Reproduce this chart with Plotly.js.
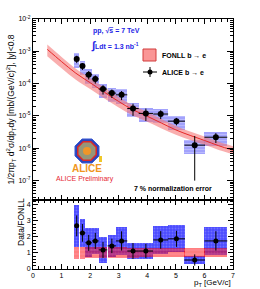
<!DOCTYPE html>
<html><head><meta charset="utf-8">
<script src="https://cdn.plot.ly/plotly-3.0.1.min.js"></script>
<style>html,body{margin:0;padding:0;background:#fff}#chart{width:260px;height:289px}</style>
</head><body><div id="chart"></div>
<script>
// ---- data ----
const pt = [1.53, 1.73, 1.95, 2.18, 2.45, 2.76, 3.1, 3.5, 3.95, 4.47, 5.02, 5.66, 6.4];
const ptHalf = [0.08, 0.1, 0.12, 0.12, 0.15, 0.15, 0.2, 0.2, 0.25, 0.26, 0.3, 0.36, 0.4];
const dataY = [5.8e-4, 3.5e-4, 1.9e-4, 1.4e-4, 6.8e-5, 5.1e-5, 4.5e-5, 1.7e-5, 1.2e-5, 1.15e-5, 6.9e-6, 1.25e-6, 2.2e-6];
const dataStat = [1.5e-4, 0.85e-4, 0.55e-4, 0.4e-4, 2.2e-5, 1.5e-5, 1.4e-5, 7e-6, 5e-6, 3.5e-6, 1.8e-6, 1.15e-6, 0.75e-6];
const dataSys = [2.8e-4, 1.6e-4, 0.95e-4, 0.65e-4, 3.3e-5, 2.4e-5, 2.1e-5, 8e-6, 5.6e-6, 5.4e-6, 3.2e-6, 0.6e-6, 1.05e-6];

const fonllPt = [0.5, 1.0, 1.5, 2.0, 2.5, 3.0, 3.5, 4.0, 4.5, 5.0, 5.5, 6.0, 6.5, 7.0];
const fonllC  = [1.15e-3, 4.8e-4, 2.1e-4, 1.07e-4, 5.4e-5, 2.8e-5, 1.55e-5, 9.8e-6, 6.0e-6, 3.7e-6, 2.5e-6, 1.75e-6, 1.2e-6, 8.7e-7];
const fonllHi = [1.62e-3, 6.7e-4, 2.9e-4, 1.48e-4, 7.4e-5, 3.8e-5, 2.1e-5, 1.32e-5, 8.0e-6, 4.9e-6, 3.3e-6, 2.3e-6, 1.58e-6, 1.15e-6];
const fonllLo = [7.1e-4, 3.0e-4, 1.32e-4, 6.8e-5, 3.5e-5, 1.83e-5, 1.03e-5, 6.6e-6, 4.1e-6, 2.6e-6, 1.8e-6, 1.28e-6, 8.9e-7, 6.6e-7];

const ratio = [2.69, 2.25, 1.63, 1.75, 1.19, 1.44, 1.75, 1.12, 1.12, 1.81, 1.88, 0.56, 1.75];
const ratioStat = [0.65, 0.55, 0.5, 0.5, 0.5, 0.45, 0.6, 0.5, 0.45, 0.55, 0.5, 0.35, 0.6];
const ratioSys = [1.3, 0.85, 0.9, 0.8, 0.8, 0.7, 0.85, 0.5, 0.5, 0.85, 0.85, 0.26, 0.85];
const ratioFonllLo = [0.64, 0.65, 0.66, 0.67, 0.68, 0.69, 0.7, 0.71, 0.72, 0.73, 0.74, 0.75, 0.76];
const ratioFonllHi = [1.38, 1.37, 1.37, 1.36, 1.36, 1.35, 1.35, 1.34, 1.34, 1.33, 1.33, 1.33, 1.32];

const yTickVals = [1e-7, 1e-6, 1e-5, 1e-4, 1e-3, 1e-2];
const yTickText = ['10<sup>-7</sup>', '10<sup>-6</sup>', '10<sup>-5</sup>', '10<sup>-4</sup>', '10<sup>-3</sup>', '10<sup>-2</sup>'];
const yMinorVals = [2e-8,3e-8,4e-8,5e-8,6e-8,7e-8,8e-8,9e-8,2e-7,3e-7,4e-7,5e-7,6e-7,7e-7,8e-7,9e-7,2e-6,3e-6,4e-6,5e-6,6e-6,7e-6,8e-6,9e-6,2e-5,3e-5,4e-5,5e-5,6e-5,7e-5,8e-5,9e-5,2e-4,3e-4,4e-4,5e-4,6e-4,7e-4,8e-4,9e-4,2e-3,3e-3,4e-3,5e-3,6e-3,7e-3,8e-3,9e-3];

// ---- traces ----
const F = 'Liberation Sans, Arial, sans-serif';
const widths = ptHalf.map(h => 2 * h);
const traces = [
  {x: fonllPt, y: fonllLo, type: 'scatter', mode: 'lines', line: {width: 0, color: 'rgba(0,0,0,0)', shape: 'spline'}, hoverinfo: 'skip', showlegend: false, xaxis: 'x', yaxis: 'y'},
  {x: fonllPt, y: fonllHi, type: 'scatter', mode: 'lines', fill: 'tonexty', fillcolor: 'rgba(245,120,120,0.6)', line: {width: 0, color: 'rgba(0,0,0,0)', shape: 'spline'}, name: 'FONLL b → e', showlegend: false, xaxis: 'x', yaxis: 'y'},
  {x: fonllPt, y: fonllC, type: 'scatter', mode: 'lines', line: {width: 1, color: 'rgb(230,40,40)', shape: 'spline'}, showlegend: false, xaxis: 'x', yaxis: 'y'},
  {x: pt, y: dataSys.map(s => 2 * s), base: dataY.map((v, i) => v - dataSys[i]), width: widths, type: 'bar',
   marker: {color: 'rgba(105,105,250,0.62)', line: {width: 0}, pattern: {shape: '-', fillmode: 'overlay', fgcolor: 'rgba(225,225,255,0.8)', size: 3, solidity: 0.3}},
   showlegend: false, xaxis: 'x', yaxis: 'y'},
  {x: pt, y: dataY, type: 'scatter', mode: 'markers', name: 'ALICE b → e',
   marker: {color: 'black', size: 6},
   error_y: {type: 'data', array: dataStat, color: 'black', thickness: 1, width: 0},
   error_x: {type: 'data', array: ptHalf, color: 'black', thickness: 1, width: 0},
   showlegend: false, xaxis: 'x', yaxis: 'y'},
  // ratio panel
  {x: pt, y: ratioSys.map(s => 2 * s), base: ratio.map((v, i) => v - ratioSys[i]), width: widths, type: 'bar',
   marker: {color: 'rgba(55,55,255,0.9)', line: {width: 0}, pattern: {shape: '.', fillmode: 'overlay', fgcolor: 'rgba(160,160,255,0.9)', size: 3, solidity: 0.3}},
   showlegend: false, xaxis: 'x2', yaxis: 'y2'},
  {x: pt, y: ratioFonllHi.map((v, i) => v - ratioFonllLo[i]), base: ratioFonllLo, width: widths, type: 'bar',
   marker: {color: 'rgba(255,0,0,0.5)', line: {width: 0}, pattern: {shape: '-', fillmode: 'overlay', fgcolor: 'rgba(255,170,210,0.8)', size: 4, solidity: 0.2}},
   showlegend: false, xaxis: 'x2', yaxis: 'y2'},
  {x: pt, y: ratio, type: 'scatter', mode: 'markers',
   marker: {color: 'black', size: 5},
   error_y: {type: 'data', array: ratioStat, color: 'black', thickness: 1, width: 0},
   error_x: {type: 'data', array: ptHalf, color: 'black', thickness: 1, width: 0},
   showlegend: false, xaxis: 'x2', yaxis: 'y2'}
];

// ---- helpers for pixel-placed decoration ----
const L = 33, R = 233, T = 19, B = 269;
const px = v => (v - L) / (R - L);
const py = v => (B - v) / (B - T);

function octagon(cx, cy, r) {
  let d = '';
  for (let k = 0; k < 8; k++) {
    const a = Math.PI / 8 + k * Math.PI / 4;
    const X = px(cx + r * Math.cos(a)), Y = py(cy + r * Math.sin(a));
    d += (k === 0 ? 'M' : 'L') + X + ',' + Y;
  }
  return d + 'Z';
}

const shapes = [
  {type: 'rect', xref: 'paper', yref: 'paper', x0: px(143), x1: px(156), y0: py(61), y1: py(49), fillcolor: 'rgb(250,150,150)', line: {color: 'rgb(210,60,60)', width: 1}},
  {type: 'line', xref: 'paper', yref: 'paper', x0: px(143), x1: px(157), y0: py(72), y1: py(72), line: {color: 'black', width: 1}},
  {type: 'line', xref: 'paper', yref: 'paper', x0: px(150), x1: px(150), y0: py(67), y1: py(77), line: {color: 'black', width: 1}},
  {type: 'circle', xref: 'paper', yref: 'paper', x0: px(147.5), x1: px(152.5), y0: py(74.5), y1: py(69.5), fillcolor: 'black', line: {color: 'black', width: 0}},
  {type: 'path', xref: 'paper', yref: 'paper', path: octagon(87, 151, 13), fillcolor: 'rgb(40,70,190)', line: {color: 'rgb(60,90,210)', width: 1}},
  {type: 'path', xref: 'paper', yref: 'paper', path: octagon(87, 151, 10), fillcolor: 'rgb(150,150,120)', line: {color: 'rgb(220,40,40)', width: 1.5}},
  {type: 'circle', xref: 'paper', yref: 'paper', x0: px(83), x1: px(91), y0: py(155), y1: py(147), fillcolor: 'rgb(240,150,40)', line: {width: 0}},
  {type: 'rect', xref: 'paper', yref: 'paper', x0: px(99), x1: px(102), y0: py(162), y1: py(156), fillcolor: 'rgb(240,200,40)', line: {width: 0}}
];

const ann = (x, y, text, opt) => Object.assign({xref: 'paper', yref: 'paper', x: px(x), y: py(y), text: text, showarrow: false, xanchor: 'left', yanchor: 'middle', font: {family: F, size: 7, color: 'black'}}, opt || {});

const annotations = [
  ann(91, 31, '<b>pp, √<span style="text-decoration:overline">s</span> = 7 TeV</b>', {font: {family: F, size: 7, color: 'rgb(30,30,230)'}}),
  ann(89, 45, '<b><span style="font-size:11px">∫</span>Ldt = 1.3 nb<sup>-1</sup></b>', {font: {family: F, size: 7, color: 'rgb(30,30,230)'}}),
  ann(160, 55, '<b>FONLL b → e</b>'),
  ann(160, 72, '<b>ALICE b → e</b>'),
  ann(87, 168, '<b>ALICE</b>', {xanchor: 'center', font: {family: F, size: 10, color: 'rgb(240,150,30)'}}),
  ann(85, 179, 'ALICE Preliminary', {xanchor: 'center', font: {family: F, size: 7, color: 'rgb(230,40,50)'}}),
  ann(173, 189, '<b>7 % normalization error</b>', {xanchor: 'center'}),
  ann(233, 283, 'p<sub>T</sub> [GeV/c]', {xanchor: 'right', font: {family: F, size: 8, color: 'black'}}),
  ann(21, 222, 'Data/FONLL', {xanchor: 'center', textangle: -90, font: {family: F, size: 8.5, color: 'black'}})
];

const axBase = {showline: true, linecolor: 'black', linewidth: 1, mirror: 'ticks', ticks: 'inside', tickcolor: 'black', showgrid: false, zeroline: false, tickfont: {family: F, size: 7, color: 'black'}};

const layout = {
  width: 260, height: 289,
  margin: {l: L, r: 260 - R, t: T, b: 289 - B},
  paper_bgcolor: 'white', plot_bgcolor: 'white',
  showlegend: false, barmode: 'overlay', bargap: 0,
  xaxis: Object.assign({}, axBase, {domain: [0, 1], anchor: 'y', range: [0, 7], dtick: 1, ticklen: 5, showticklabels: false, minor: {ticks: 'inside', ticklen: 3, dtick: 0.2, tickcolor: 'black'}}),
  yaxis: Object.assign({}, axBase, {domain: [0.276, 1], anchor: 'x', type: 'log', range: [-7.6, -2], tickvals: yTickVals, ticktext: yTickText, ticklen: 6, minor: {ticks: 'inside', ticklen: 3, tickcolor: 'black', tickvals: yMinorVals},
    title: {text: '1/2πp<sub>T</sub> d<sup>2</sup>σ/dp<sub>T</sub>dy [mb/(GeV/c)<sup>2</sup>], |y|<0.8', font: {family: F, size: 8.5, color: 'black'}, standoff: 2}}),
  xaxis2: Object.assign({}, axBase, {domain: [0, 1], anchor: 'y2', range: [0, 7], dtick: 1, ticklen: 5, matches: 'x', minor: {ticks: 'inside', ticklen: 3, dtick: 0.2, tickcolor: 'black'}}),
  yaxis2: Object.assign({}, axBase, {domain: [0, 0.276], anchor: 'x2', range: [0, 4.3], dtick: 1, ticklen: 5, minor: {ticks: 'inside', ticklen: 3, dtick: 0.2, tickcolor: 'black'}}),
  shapes: shapes,
  annotations: annotations
};

Plotly.newPlot('chart', traces, layout, {staticPlot: true, displayModeBar: false});
</script></body></html>
